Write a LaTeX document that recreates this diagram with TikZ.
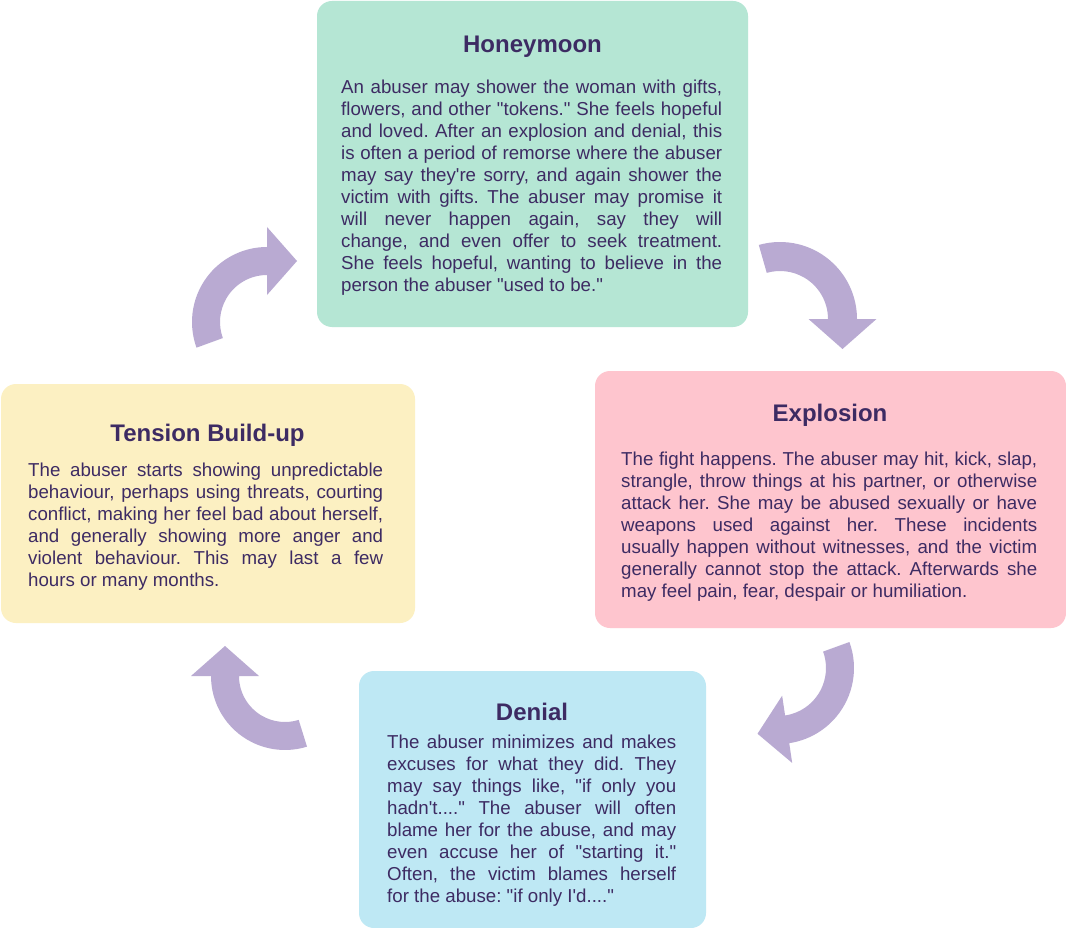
\documentclass[tikz,border=0pt]{standalone}
\usepackage{fontspec}
\newfontfamily\bodyfont{Liberation Sans}
\usetikzlibrary{calc}
\definecolor{mint}{HTML}{B5E6D4}
\definecolor{pinkbox}{HTML}{FEC5CE}
\definecolor{yellowbox}{HTML}{FCF0C2}
\definecolor{bluebox}{HTML}{BEE8F4}
\definecolor{arrowcol}{HTML}{B9AAD2}
\definecolor{ink}{HTML}{3D2B63}
\newcommand\cyclearrow[6]{%
  \begin{scope}[shift={(#1,#2)}]
    \pgfmathsetmacro\mR{(#3+#4)/2}%
    \pgfmathsetmacro\mo{\mR+34}%
    \pgfmathsetmacro\mi{\mR-34}%
    \pgfmathsetmacro\ta{#6-90}%
    \fill[arrowcol] (#5:#3) arc[start angle=#5, end angle=#6, radius=#3]
      -- (#6:\mo) -- ($(#6:\mR)+(\ta:30)$) -- (#6:\mi) -- (#6:#4)
      arc[start angle=#6, end angle=#5, radius=#4] -- cycle;
  \end{scope}}
\newcommand\bodysetup{\bodyfont\fontsize{18.7}{22}\selectfont\frenchspacing
  \hyphenpenalty=10000\relax\exhyphenpenalty=10000\relax
  \tolerance=10000\relax\hbadness=10000\relax\pretolerance=-1\relax}
\tikzset{
  box/.style={draw=none, rounded corners=15pt, inner sep=0pt},
  title/.style={anchor=base, inner sep=0pt, text=ink,
    font=\bodyfont\bfseries\fontsize{24}{28}\selectfont},
  body/.style={anchor=north west, inner sep=0pt, text=ink, align=justify,
    font=\bodysetup}
}
\newcommand\st{\rule{0pt}{14pt}}
\begin{document}
\begin{tikzpicture}[x=1pt,y=1pt]
\useasboundingbox (0,0) rectangle (1066,-928);
\fill[white] (0,0) rectangle (1066,-928);

% boxes
\node[box, fill=mint, minimum width=431pt, minimum height=326pt] (hm) at (532.5,-164) {};
\node[box, fill=pinkbox, minimum width=471pt, minimum height=257pt] (ex) at (830.5,-499.5) {};
\node[box, fill=yellowbox, minimum width=414pt, minimum height=239pt] (tb) at (208,-503.5) {};
\node[box, fill=bluebox, minimum width=347pt, minimum height=257pt] (dn) at (532.5,-799.5) {};

% titles
\node[title] (hmt) at (532.5,-53) {Honeymoon};
\node[title] (ext) at (830,-421) {Explosion};
\node[title] (tbt) at (207.5,-441) {Tension Build-up};
\node[title] (dnt) at (532,-720) {Denial};

% bodies
\node[body, text width=381pt] (hmb) at (341,-79) {\st An abuser may shower the woman with gifts,\linebreak
flowers, and other "tokens." She feels hopeful\linebreak
and loved. After an explosion and denial, this\linebreak
is often a period of remorse where the abuser\linebreak
may say they're sorry, and again shower the\linebreak
victim with gifts. The abuser may promise it\linebreak
will never happen again, say they will\linebreak
change, and even offer to seek treatment.\linebreak
She feels hopeful, wanting to believe in the\linebreak
person the abuser "used to be."};

\node[body, text width=416pt] (exb) at (621,-451) {\st The fight happens. The abuser may hit, kick, slap,\linebreak
strangle, throw things at his partner, or otherwise\linebreak
attack her. She may be abused sexually or have\linebreak
weapons used against her. These incidents\linebreak
usually happen without witnesses, and the victim\linebreak
generally cannot stop the attack. Afterwards she\linebreak
may feel pain, fear, despair or humiliation.};

\node[body, text width=355pt] (tbb) at (28,-462) {\st The abuser starts showing unpredictable\linebreak
behaviour, perhaps using threats, courting\linebreak
conflict, making her feel bad about herself,\linebreak
and generally showing more anger and\linebreak
violent behaviour. This may last a few\linebreak
hours or many months.};

\node[body, text width=289pt] (dnb) at (387,-734) {\st The abuser minimizes and makes\linebreak
excuses for what they did. They\linebreak
may say things like, "if only you\linebreak
hadn't...." The abuser will often\linebreak
blame her for the abuse, and may\linebreak
even accuse her of "starting it."\linebreak
Often, the victim blames herself\linebreak
for the abuse: "if only I'd...."};

% arrows
\cyclearrow{267}{-322}{75}{47}{200}{90}
\cyclearrow{780}{-319}{77}{48}{106}{0}
\cyclearrow{778}{-668}{76}{48}{20}{-81.5}
\cyclearrow{285}{-676}{74}{46}{-72.7}{-180}
\end{tikzpicture}
\end{document}
